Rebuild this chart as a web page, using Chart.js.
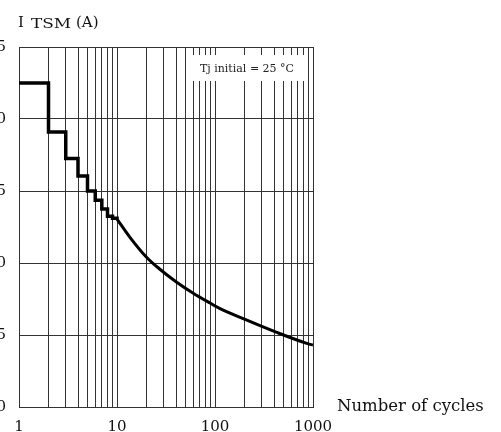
<!DOCTYPE html>
<html>
<head>
<meta charset="utf-8">
<script src="https://cdn.jsdelivr.net/npm/chart.js@4/dist/chart.umd.min.js"></script>
<style>
  html, body { margin: 0; padding: 0; background: #fff; }
  #wrap { position: relative; width: 501px; height: 432px; }
</style>
</head>
<body>
<div id="wrap"><canvas id="surgeChart" width="501" height="432"></canvas></div>
<script>
// Surge current vs number of cycles
const stepCycles = [1, 2, 3, 4, 5, 6, 7, 8, 9, 10];
const stepCurrent = [22.5, 19.1, 17.25, 16.05, 15.0, 14.35, 13.75, 13.25, 13.1, 13.05];
const curveCycles = [10, 13.5, 20, 27, 40, 60, 90, 110, 200, 420, 880, 1000];
const curveCurrent = [13.05, 11.8, 10.4, 9.6, 8.7, 7.9, 7.2, 6.87, 6.1, 5.2, 4.4, 4.3];
const xLabels = [1, 10, 100, 1000];
const yTicks = [0, 5, 10, 15, 20, 25];
const noteText = 'Tj initial = 25 °C';
const xTitle = 'Number of cycles';

const FONT = '"DejaVu Serif", serif';

const textPlugin = {
  id: 'texts',
  afterDraw(chart) {
    const ctx = chart.ctx;
    const area = chart.chartArea;
    ctx.save();
    // note box on top of the grid
    ctx.fillStyle = '#fff';
    ctx.fillRect(191, 55, 114, 26);
    ctx.fillStyle = '#222';
    ctx.font = '11px ' + FONT;
    ctx.textAlign = 'center';
    ctx.textBaseline = 'middle';
    ctx.fillText(noteText, 247, 69);

    // axis title, y
    ctx.fillStyle = '#111';
    ctx.textAlign = 'left';
    ctx.textBaseline = 'alphabetic';
    ctx.font = '15px ' + FONT;
    ctx.fillText('I', 18, 27);
    ctx.save();
    ctx.translate(31, 28);
    ctx.scale(1.3, 1);
    ctx.font = '13px ' + FONT;
    ctx.fillText('TSM', 0, 0);
    ctx.restore();
    ctx.font = '15px ' + FONT;
    ctx.fillText('(A)', 76, 27);

    // axis title, x
    ctx.font = '16.5px ' + FONT;
    ctx.fillText(xTitle, area.right + 24, area.bottom + 4);
    ctx.restore();
  }
};

const ctx = document.getElementById('surgeChart').getContext('2d');
new Chart(ctx, {
  type: 'line',
  data: {
    datasets: [
      {
        data: stepCycles.map((c, i) => ({ x: c, y: stepCurrent[i] })),
        borderColor: '#000',
        borderWidth: 3.5,
        pointRadius: 0,
        stepped: 'before',
        fill: false
      },
      {
        data: curveCycles.map((c, i) => ({ x: c, y: curveCurrent[i] })),
        borderColor: '#000',
        borderWidth: 3,
        pointRadius: 0,
        cubicInterpolationMode: 'monotone',
        fill: false
      }
    ]
  },
  options: {
    responsive: false,
    animation: false,
    devicePixelRatio: 1,
    layout: { padding: { left: 0, right: 188, top: 47, bottom: 0 } },
    plugins: { legend: { display: false }, tooltip: { enabled: false } },
    scales: {
      x: {
        type: 'logarithmic',
        min: 1,
        max: 1000,
        afterBuildTicks(scale) {
          const ticks = [];
          for (let d = 1; d < 1000; d *= 10) {
            for (let m = 1; m < 10; m++) ticks.push({ value: m * d });
          }
          ticks.push({ value: 1000 });
          scale.ticks = ticks;
        },
        afterFit(scale) { scale.height = 25; },
        grid: { color: '#333', lineWidth: 1, drawTicks: false },
        border: { color: '#333', width: 1 },
        ticks: {
          autoSkip: false,
          maxRotation: 0,
          padding: 11,
          color: '#111',
          font: { family: FONT, size: 15 },
          callback: (v) => xLabels.includes(v) ? String(v) : ''
        }
      },
      y: {
        min: 0,
        max: 25,
        afterBuildTicks(scale) {
          scale.ticks = yTicks.map(v => ({ value: v }));
        },
        afterFit(scale) { scale.width = 19; },
        grid: { color: '#333', lineWidth: 1, drawTicks: false },
        border: { color: '#333', width: 1 },
        ticks: {
          padding: 13,
          color: '#111',
          font: { family: FONT, size: 15 }
        }
      }
    }
  },
  plugins: [textPlugin]
});
</script>
</body>
</html>
